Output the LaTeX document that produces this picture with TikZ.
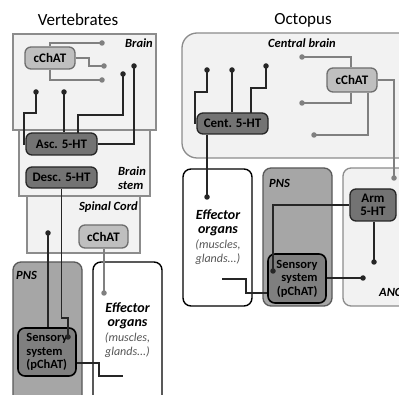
\documentclass[tikz,border=0pt]{standalone}
\usepackage{fontspec}
\setmainfont{Carlito}
\definecolor{lightfill}{HTML}{F2F2F2}
\definecolor{boxgray}{HTML}{8C8C8C}
\definecolor{cchatfill}{HTML}{BFBFBF}
\definecolor{cchatdraw}{HTML}{6E6E6E}
\definecolor{htfill}{HTML}{737373}
\definecolor{htdraw}{HTML}{262626}
\definecolor{pnsfill}{HTML}{A6A6A6}
\definecolor{pnsdraw}{HTML}{595959}
\definecolor{sensfill}{HTML}{7F7F7F}
\definecolor{grayline}{HTML}{808080}
\definecolor{subtext}{HTML}{555555}
\begin{document}
\begin{tikzpicture}[x=1pt,y=-1pt,
  box/.style={draw=boxgray, line width=1.3pt, fill=lightfill},
  pnsbox/.style={draw=pnsdraw, line width=1.3pt, fill=pnsfill, rounded corners=8pt},
  effbox/.style={draw=black, line width=1.4pt, fill=white, rounded corners=8pt},
  titletxt/.style={font=\fontsize{17}{20}\selectfont},
  lbl/.style={font=\fontsize{12.5}{14}\selectfont\bfseries\itshape, inner sep=0pt},
  cchat/.style={draw=cchatdraw, fill=cchatfill, line width=1.3pt, rounded corners=6pt, inner sep=0pt, font=\fontsize{13}{14}\selectfont\bfseries},
  ht/.style={draw=htdraw, fill=htfill, line width=1.3pt, rounded corners=6pt, inner sep=0pt, font=\fontsize{13}{14}\selectfont\bfseries},
  sens/.style={draw=black, fill=sensfill, line width=1.6pt, rounded corners=7pt, inner sep=0pt, font=\fontsize{12.5}{13.5}\selectfont\bfseries},
  conn/.style={draw=black!85, line width=1.1pt},
  gconn/.style={draw=grayline, line width=1.1pt},
  bdot/.style={circle, fill=black!85, inner sep=0pt, minimum size=5.5pt},
  gdot/.style={circle, fill=grayline, inner sep=0pt, minimum size=5.5pt},
  efftxt/.style={align=center, inner sep=0pt, font=\fontsize{14}{14.5}\selectfont}
]
\newcommand{\efflines}{{\bfseries\itshape Effector}\\{\bfseries\itshape organs}\\{\fontsize{12}{14.5}\selectfont\itshape\color{subtext}(muscles,}\\{\fontsize{12}{12.5}\selectfont\itshape\color{subtext}glands...)}}
\useasboundingbox (0,0) rectangle (399,395);
\clip (0,0) rectangle (399,395);
\fill[white] (0,0) rectangle (399,395);

% ---------------- titles
\node[titletxt] (tv) at (78,20) {Vertebrates};
\node[titletxt] (to) at (303,20) {Octopus};

% ---------------- vertebrate boxes
\draw[box] (19,120) rectangle (150,196);
\draw[box] (27,196) rectangle (140,253);
\draw[box] (13,34) rectangle (156,130);
\draw[pnsbox] (13,262) rectangle (82,440);
\draw[effbox] (93,262) rectangle (162,440);

\node[lbl, anchor=east] (lbrain) at (153,43) {Brain};
\node[lbl, align=left] (lstem) at (132,178) {Brain\\stem};
\node[lbl, anchor=east] (lspinal) at (138,207) {Spinal Cord};
\node[lbl, anchor=west] (lpns1) at (16,275) {PNS};
\node[efftxt] (eff1) at (127.5,330) {\efflines};

% ---------------- octopus boxes
\draw[box, rounded corners=15pt] (182,33) rectangle (440,158);
\draw[effbox] (183,169) rectangle (252,306);
\draw[pnsbox] (263,168) rectangle (332,306);
\draw[box, rounded corners=8pt] (343,168) rectangle (440,306);

\node[lbl] (lcb) at (302,43) {Central brain};
\node[lbl, anchor=west] (lpns2) at (269,183) {PNS};
\node[lbl, anchor=west] (lanc) at (379,292) {ANC};
\node[efftxt] (eff2) at (218,237) {\efflines};

% ---------------- vertebrate nodes
\node[cchat, minimum width=50pt, minimum height=22pt] (vc1) at (50,58) {cChAT};
\node[ht, minimum width=71pt, minimum height=22pt] (asc) at (61.5,144) {Asc. 5-HT};
\node[ht, minimum width=71pt, minimum height=21pt] (desc) at (61.5,177.5) {Desc. 5-HT};
\node[cchat, minimum width=49pt, minimum height=23pt] (vc2) at (103.5,236.5) {cChAT};
\node[sens, minimum width=58pt, minimum height=48pt, align=left] (vs) at (47,352) {Sensory\\system\\(pChAT)};

% vertebrate dots
\node[gdot] (g1) at (102,43) {};
\node[gdot] (g2) at (104,66) {};
\node[gdot] (g3) at (102,80) {};
\node[gdot] (g4) at (104,293) {};
\node[bdot] (b1) at (36,92) {};
\node[bdot] (b2) at (64,92) {};
\node[bdot] (b3) at (123,74) {};
\node[bdot] (b4) at (134,66) {};
\node[bdot] (b5) at (48,233) {};
\node[bdot] (b6) at (68,337) {};
\coordinate (vend) at (123,376);

% vertebrate connectors
\draw[gconn] (vc1.north) |- (g1.center);
\draw[gconn] (vc1.east) -- (89,58) |- (g2.center);
\draw[gconn] (vc1.south) |- (g3.center);
\draw[gconn] (vc2.south -| g4) -- (g4.center);
\draw[conn] (b1.center) |- (24,113) |- (asc.west);
\draw[conn] (b2.center) -- (b2 |- asc.north);
\draw[conn] (b3.center) |- (78,115) -- (78,133);
\draw[conn] (b4.center) |- (asc.east);
\draw[conn] (desc.south) -- (61.5,318) -| (b6.center);
\draw[conn] (b5.center) -- (b5 |- vs.north);
\draw[conn] (vs.east |- 0,363) -- (99,363) |- (vend);

% ---------------- octopus nodes
\node[ht, minimum width=71pt, minimum height=21pt] (cent) at (232.5,123.5) {Cent. 5-HT};
\node[cchat, minimum width=50pt, minimum height=24pt] (oc) at (352,80) {cChAT};
\node[ht, minimum width=46pt, minimum height=32pt, align=center, font=\fontsize{13}{13.5}\selectfont\bfseries] (arm) at (373,205) {Arm\\5-HT};
\node[sens, minimum width=58pt, minimum height=49pt, align=right] (os) at (297,278.5) {Sensory\\system\\(pChAT)};

% octopus dots
\node[bdot] (b7) at (207,70) {};
\node[bdot] (b8) at (232,70) {};
\node[bdot] (b9) at (266,66) {};
\node[bdot] (b10) at (207,197) {};
\node[bdot] (b11) at (374,262) {};
\node[bdot] (b12) at (273,271) {};
\node[bdot] (b13) at (363,278) {};
\node[gdot] (g5) at (302,57) {};
\node[gdot] (g6) at (302,103) {};
\node[gdot] (g7) at (314,135) {};
\node[gdot] (g8) at (394,178) {};
\coordinate (oend) at (222,279);

% octopus connectors
\draw[conn] (b7.center) |- (195,92) |- (cent.west);
\draw[conn] (b8.center) -- (b8 |- cent.north);
\draw[conn] (b9.center) |- (251,88) -- (251,113);
\draw[conn] (cent.south -| b10) -- (b10.center);
\draw[gconn] (oc.north -| 351,0) |- (g5.center);
\draw[gconn] (oc.south -| 351,0) |- (g6.center);
\draw[gconn] (oc.south -| 368,0) |- (g7.center);
\draw[gconn] (oc.east) -| (g8.center);
\draw[conn] (arm.south -| b11) -- (b11.center);
\draw[conn] (arm.west) -| (b12.center);
\draw[conn] (os.east |- b13) -- (b13.center);
\draw[conn] (oend) -- (246,279) |- (os.west |- 0,293);
\end{tikzpicture}
\end{document}
